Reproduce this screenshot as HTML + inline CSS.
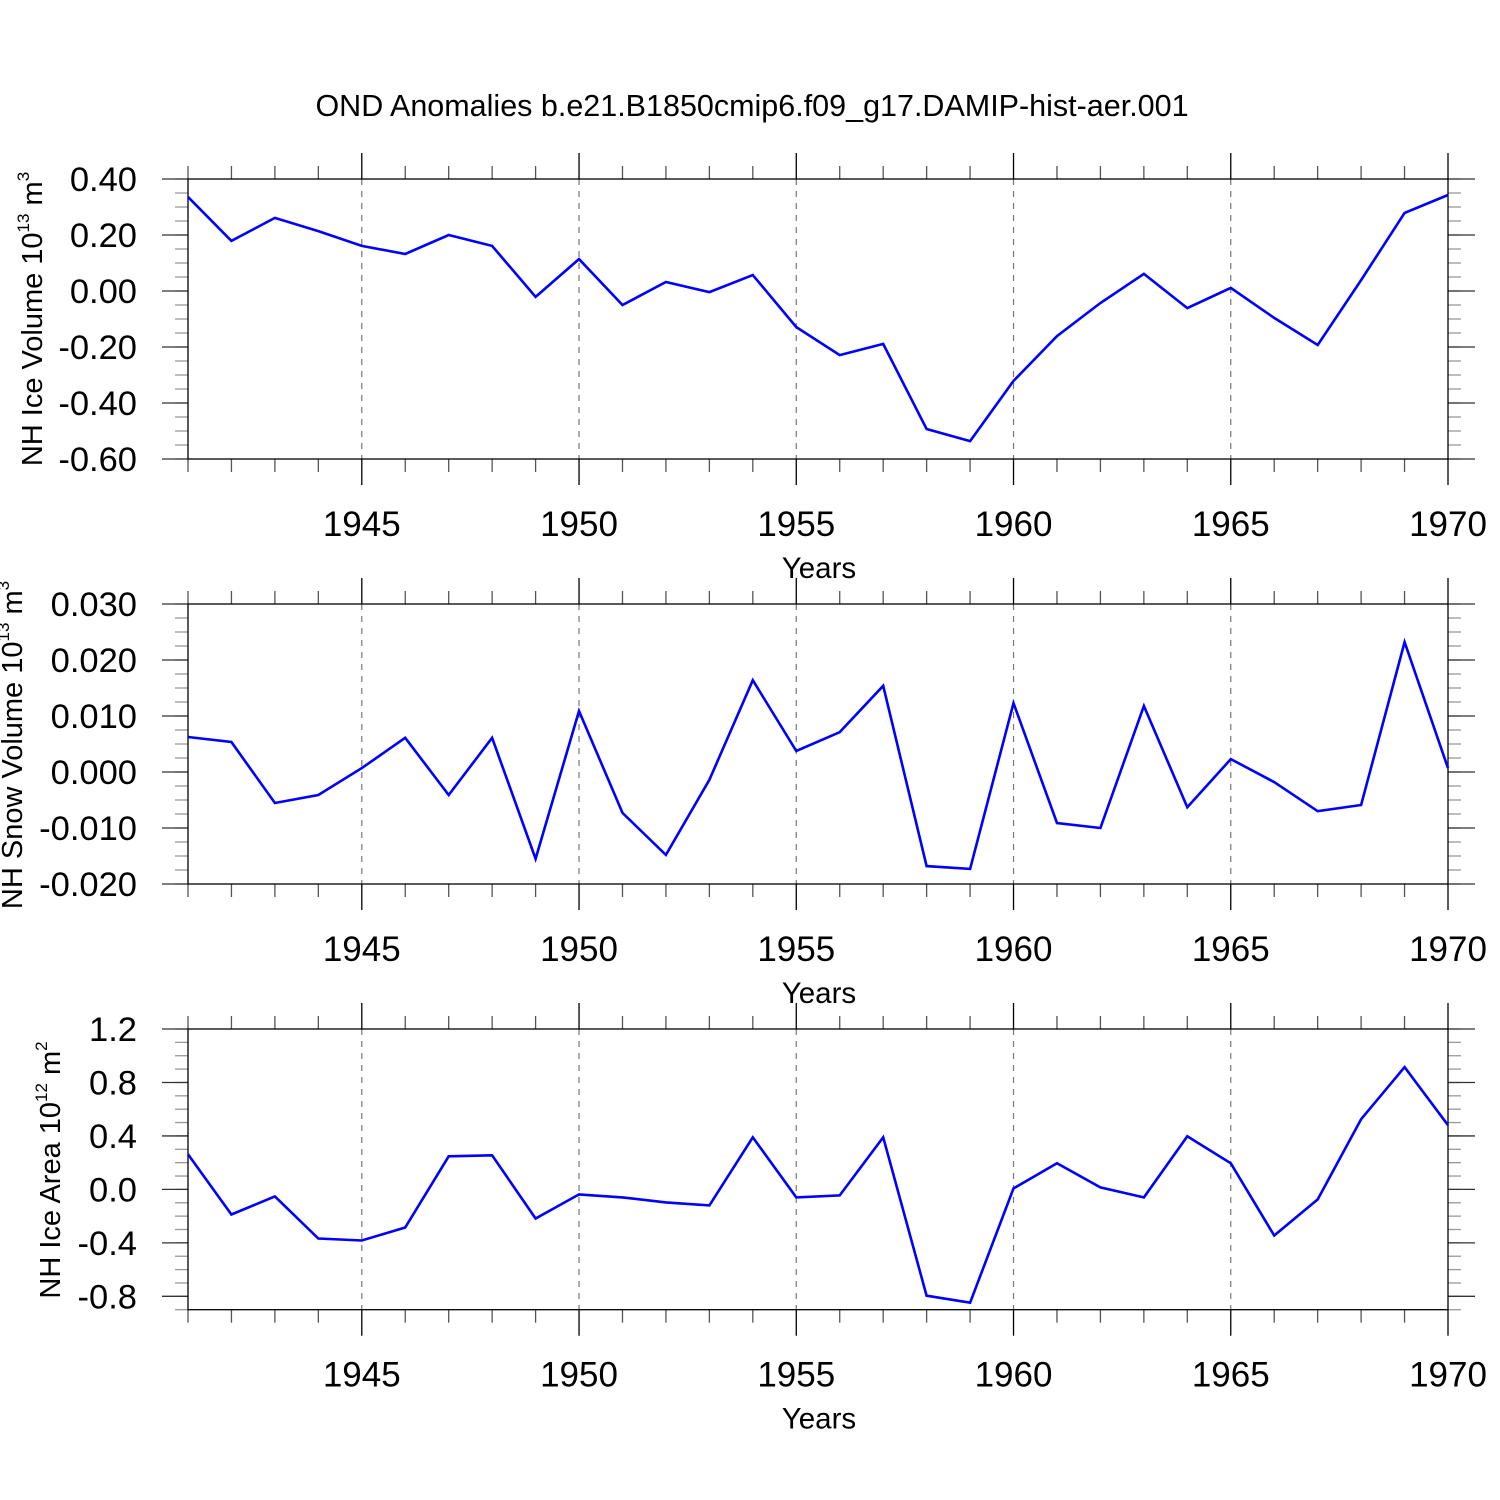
<!DOCTYPE html>
<html><head><meta charset="utf-8"><style>
html,body{margin:0;padding:0;background:#fff}
svg{display:block;font-family:"Liberation Sans",sans-serif}
</style></head><body>
<svg id="chart" width="1500" height="1500" viewBox="0 0 1500 1500" xmlns="http://www.w3.org/2000/svg">
<rect width="1500" height="1500" fill="#fff"/>
<text x="752" y="116" font-size="30.5" text-anchor="middle">OND Anomalies b.e21.B1850cmip6.f09_g17.DAMIP-hist-aer.001</text>
</svg>
<script>
const years = [1941,1942,1943,1944,1945,1946,1947,1948,1949,1950,1951,1952,1953,1954,1955,1956,1957,1958,1959,1960,1961,1962,1963,1964,1965,1966,1967,1968,1969,1970];
const iceVolume = [0.336,0.179,0.261,0.214,0.161,0.132,0.2,0.161,-0.021,0.114,-0.05,0.032,-0.004,0.057,-0.129,-0.229,-0.189,-0.493,-0.536,-0.321,-0.161,-0.043,0.061,-0.061,0.011,-0.096,-0.193,0.039,0.279,0.343];
const snowVolume = [0.00625,0.00536,-0.00554,-0.0041,0.0007,0.0061,-0.0041,0.0061,-0.0155,0.0109,-0.0073,-0.0148,-0.0014,0.0164,0.00375,0.0071,0.0154,-0.0168,-0.0173,0.0123,-0.0091,-0.01,0.0118,-0.0063,0.0023,-0.0018,-0.007,-0.0059,0.0232,0.0007];
const iceArea = [0.2625,-0.1875,-0.0525,-0.3675,-0.3825,-0.285,0.2475,0.255,-0.2175,-0.0375,-0.06,-0.0975,-0.12,0.39,-0.06,-0.045,0.39,-0.795,-0.8475,0.0075,0.195,0.015,-0.06,0.3975,0.195,-0.345,-0.075,0.525,0.915,0.48];
const xTickLabels = ["1945","1950","1955","1960","1965","1970"];
const iceVolTicks = ["0.40","0.20","0.00","-0.20","-0.40","-0.60"];
const snowTicks = ["0.030","0.020","0.010","0.000","-0.010","-0.020"];
const areaTicks = ["1.2","0.8","0.4","0.0","-0.4","-0.8"];

const svg = document.getElementById('chart');
const NS = 'http://www.w3.org/2000/svg';
function mk(tag, attrs, parent){const e=document.createElementNS(NS,tag);for(const k in attrs)e.setAttribute(k,attrs[k]);(parent||svg).appendChild(e);return e;}

const X0=188, X1=1448, Y0=1941, Y1=1970;
function xs(y){return X0+(y-Y0)/(Y1-Y0)*(X1-X0);}

const panels = [
 {name:'ice-volume',top:179,bot:459,vmax:0.4,vmin:-0.6,major:0.2,minor:0.05,ticks:iceVolTicks,data:iceVolume,title:'NH Ice Volume 10',sup1:'13',unit:' m',sup2:'3',tx:42,ty:319},
 {name:'snow-volume',top:604,bot:884,vmax:0.03,vmin:-0.02,major:0.01,minor:0.0025,ticks:snowTicks,data:snowVolume,title:'NH Snow Volume 10',sup1:'13',unit:' m',sup2:'3',tx:22,ty:745},
 {name:'ice-area',top:1029,bot:1309.7,vmax:1.2,vmin:-0.9,major:0.4,minor:0.1,ticks:areaTicks,data:iceArea,title:'NH Ice Area 10',sup1:'12',unit:' m',sup2:'2',tx:60,ty:1170}
];

panels.forEach(p=>{
 const g=mk('g',{});
 
 
 const ys=v=>p.top+(p.vmax-v)/(p.vmax-p.vmin)*(p.bot-p.top);
 for(let yr=1945;yr<1970;yr+=5){
  const l=mk('line',{x1:xs(yr),x2:xs(yr),y1:p.top,y2:p.bot,stroke:'#777','stroke-width':1.2,'stroke-dasharray':'6,6'},g);
  
  
 }
 years.forEach(yr=>{
  const maj=(yr%5===0);
  const len=maj?26:13;
  mk('line',{x1:xs(yr),x2:xs(yr),y1:p.top-len,y2:p.top,stroke:maj?'#000':'#555','stroke-width':1.3},g);
  mk('line',{x1:xs(yr),x2:xs(yr),y1:p.bot,y2:p.bot+len,stroke:maj?'#000':'#555','stroke-width':1.3},g);
 });
 const nMin=Math.round((p.vmax-p.vmin)/p.minor);
 for(let i=0;i<=nMin;i++){
  const v=p.vmax-i*p.minor, y=ys(v);
  mk('line',{x1:X0-13,x2:X0,y1:y,y2:y,stroke:'#999','stroke-width':1.3},g);
  mk('line',{x1:X1,x2:X1+13,y1:y,y2:y,stroke:'#999','stroke-width':1.3},g);
 }
 p.ticks.forEach((t,i)=>{
  const y=ys(p.vmax-i*p.major);
  mk('line',{x1:X0-26,x2:X0,y1:y,y2:y,stroke:'#333','stroke-width':1.3},g);
  mk('line',{x1:X1,x2:X1+27,y1:y,y2:y,stroke:'#333','stroke-width':1.3},g);
  const tx=mk('text',{x:137,y:y+12,'font-size':34.5,'text-anchor':'end'},g);
  tx.textContent=t;
  
  
 });
 mk('rect',{x:X0,y:p.top,width:X1-X0,height:p.bot-p.top,fill:'none',stroke:'#000','stroke-width':1.3},g);
 xTickLabels.forEach(t=>{
  const tx=mk('text',{x:xs(+t),y:p.bot+77,'font-size':35,'text-anchor':'middle'},g);
  tx.textContent=t;
  
  
 });
 const xt=mk('text',{x:819,y:p.bot+119,'font-size':29.5,'text-anchor':'middle'},g);
 xt.textContent='Years';
 
 
 const yt=mk('text',{x:0,y:0,'font-size':29,'text-anchor':'middle',transform:`translate(${p.tx},${p.ty}) rotate(-90)`},g);
 
 
 const s0=document.createElementNS(NS,'tspan');s0.textContent=p.title;yt.appendChild(s0);
 const s1=document.createElementNS(NS,'tspan');s1.setAttribute('font-size','17');s1.setAttribute('dy','-13');s1.textContent=p.sup1;yt.appendChild(s1);
 const s2=document.createElementNS(NS,'tspan');s2.setAttribute('dy','13');s2.textContent=p.unit;yt.appendChild(s2);
 const s3=document.createElementNS(NS,'tspan');s3.setAttribute('font-size','17');s3.setAttribute('dy','-13');s3.textContent=p.sup2;yt.appendChild(s3);
 const pts=p.data.map((v,i)=>xs(years[i]).toFixed(1)+','+ys(v).toFixed(1)).join(' ');
 const pl=mk('polyline',{points:pts,fill:'none',stroke:'#0000ff','stroke-width':2.6,'stroke-linejoin':'miter'},g);
 
 
});
</script>
</body></html>
